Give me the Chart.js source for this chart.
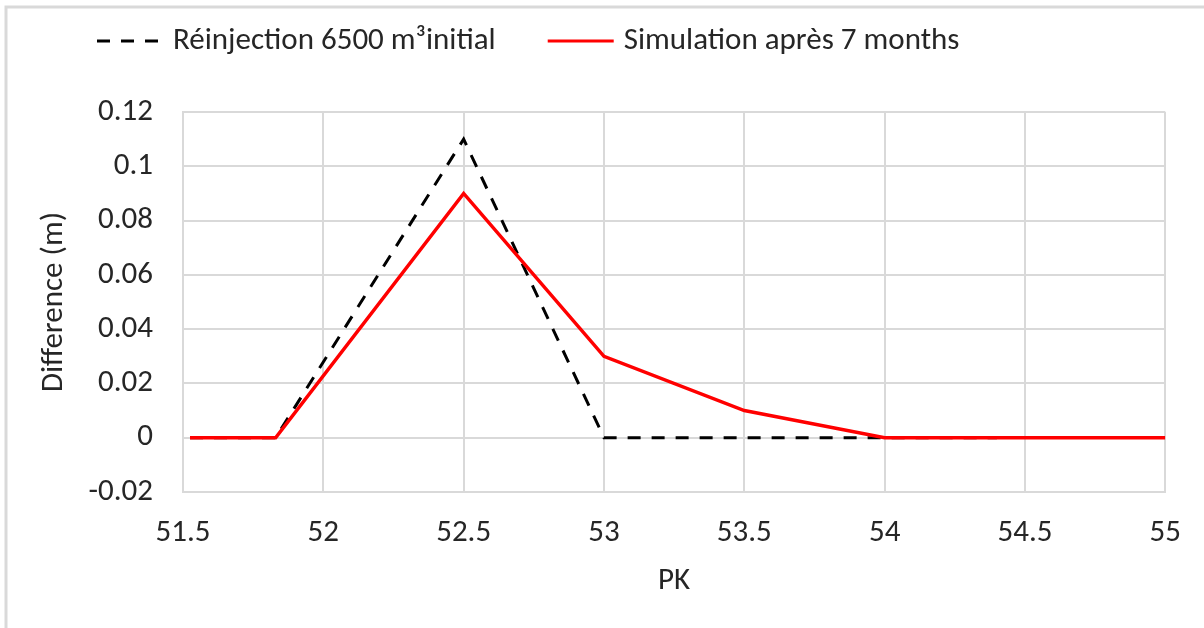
<!DOCTYPE html>
<html>
<head>
<meta charset="utf-8">
<script src="https://cdn.jsdelivr.net/npm/chart.js@4.4.1/dist/chart.umd.min.js"></script>
<style>
  html, body { margin: 0; background: #fff; }
  #wrap { width: 1204px; height: 628px; position: relative; }
</style>
</head>
<body>
<div id="wrap"><canvas id="pkChart"></canvas></div>
<script>
// data
const pkReinjection = [51.525, 51.83, 52.5, 53, 54, 54.4];
const reinjection = [0, 0, 0.11, 0, 0, 0];
const pkSimulation = [51.525, 51.83, 52.5, 53, 53.5, 54, 55];
const simulation = [0, 0, 0.09, 0.03, 0.01, 0, 0];
const seriesNames = ['Réinjection 6500 m³initial', 'Simulation après 7 months'];

const FONT = 'Carlito, Lato, sans-serif';
const FS = 31;
const gridCol = '#d9d9d9';
const textCol = '#262626';

function toPoints(xs, ys) {
  return xs.map((x, i) => ({x: x, y: ys[i]}));
}

// outer frame like the pasted picture
const framePlugin = {
  id: 'frame',
  beforeDraw(chart) {
    const ctx = chart.ctx;
    ctx.save();
    ctx.strokeStyle = gridCol;
    ctx.lineWidth = 3;
    ctx.strokeRect(6, 7, 1400, 800);
    ctx.restore();
  }
};

// legend on one row, line samples + text
const legendPlugin = {
  id: 'rowLegend',
  afterDraw(chart) {
    const ctx = chart.ctx;
    let x = 97;
    const y = 41;
    ctx.save();
    ctx.font = FS + 'px ' + FONT;
    ctx.textBaseline = 'middle';
    chart.data.datasets.forEach(ds => {
      ctx.beginPath();
      ctx.strokeStyle = ds.borderColor;
      ctx.lineWidth = 3;
      ctx.setLineDash(ds.borderDash || []);
      ctx.moveTo(x, y);
      ctx.lineTo(x + 66, y);
      ctx.stroke();
      ctx.setLineDash([]);
      x += 66 + 10;
      ctx.fillStyle = textCol;
      ctx.fillText(ds.label, x, y);
      x += ctx.measureText(ds.label).width + 52;
    });
    ctx.restore();
  }
};

new Chart('pkChart', {
  type: 'line',
  data: {
    datasets: [{
      label: seriesNames[0],
      data: toPoints(pkReinjection, reinjection),
      borderColor: '#000000',
      borderWidth: 3,
      borderDash: [13, 11],
      pointRadius: 0,
      tension: 0,
      order: 1
    }, {
      label: seriesNames[1],
      data: toPoints(pkSimulation, simulation),
      borderColor: '#ff0000',
      borderWidth: 3.5,
      pointRadius: 0,
      tension: 0,
      order: 0
    }]
  },
  options: {
    responsive: true,
    maintainAspectRatio: false,
    animation: false,
    layout: { padding: { left: 20, right: 38, top: 112, bottom: 20 } },
    plugins: {
      legend: { display: false },
      tooltip: { enabled: false }
    },
    scales: {
      x: {
        type: 'linear',
        min: 51.5,
        max: 55,
        ticks: {
          stepSize: 0.5,
          padding: 23,
          color: textCol,
          font: { family: FONT, size: FS },
          maxRotation: 0,
          callback: v => String(+v.toFixed(1))
        },
        grid: { color: gridCol, lineWidth: 2, drawTicks: false },
        border: { color: gridCol, width: 2 },
        title: {
          display: true,
          text: 'PK',
          color: textCol,
          font: { family: FONT, size: FS },
          padding: { top: 0, bottom: 8 }
        },
        afterFit(scale) { scale.height = 116; }
      },
      y: {
        min: -0.02,
        max: 0.12,
        ticks: {
          stepSize: 0.02,
          padding: 30,
          color: textCol,
          font: { family: FONT, size: FS },
          callback: v => String(+v.toFixed(2))
        },
        grid: { color: gridCol, lineWidth: 2, drawTicks: false },
        border: { color: gridCol, width: 2 },
        title: {
          display: true,
          text: 'Difference (m)',
          color: textCol,
          font: { family: FONT, size: FS },
          padding: { top: 16, bottom: 0 }
        },
        afterFit(scale) { scale.width = 163; }
      }
    }
  },
  plugins: [framePlugin, legendPlugin]
});
</script>
</body>
</html>
